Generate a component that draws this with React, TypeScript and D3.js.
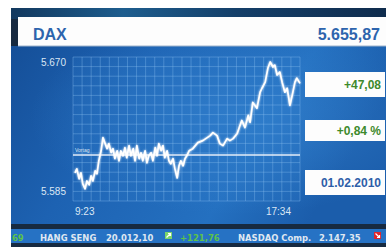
import { useEffect, useRef } from 'react';
import * as d3 from 'd3';

// intraday DAX quotes
const times = [
  '9:23', '9:27', '9:32', '9:36', '9:40', '9:45', '9:49', '9:54', '9:58', '10:02',
  '10:07', '10:11', '10:15', '10:20', '10:24', '10:28', '10:33', '10:37', '10:42', '10:46',
  '10:50', '10:55', '10:59', '11:03', '11:08', '11:12', '11:16', '11:21', '11:25', '11:30',
  '11:34', '11:38', '11:43', '11:47', '11:51', '11:56', '12:00', '12:04', '12:09', '12:13',
  '12:18', '12:22', '12:26', '12:31', '12:35', '12:39', '12:44', '12:48', '12:52', '12:57',
  '13:01', '13:06', '13:10', '13:14', '13:19', '13:23', '13:27', '13:32', '13:40', '13:51',
  '14:02', '14:18', '14:24', '14:33', '14:39', '14:46', '14:55', '15:01', '15:08', '15:17',
  '15:23', '15:27', '15:34', '15:41', '15:45', '15:51', '16:00', '16:07', '16:11', '16:18',
  '16:24', '16:29', '16:35', '16:39', '16:44', '16:50', '16:55', '17:01', '17:06', '17:12',
  '17:17', '17:23', '17:27', '17:34',
];
const values = [
  5597.0, 5599.6, 5593.0, 5597.0, 5589.7, 5586.4, 5591.6, 5589.0, 5595.0, 5591.6,
  5598.3, 5596.3, 5604.9, 5611.5, 5620.2, 5616.9, 5612.9, 5616.2, 5610.2, 5612.9,
  5606.3, 5611.5, 5604.9, 5611.5, 5608.2, 5613.6, 5606.9, 5614.9, 5608.2, 5612.9,
  5604.9, 5614.9, 5606.3, 5610.2, 5604.9, 5611.5, 5603.6, 5608.2, 5610.2, 5604.9,
  5613.6, 5608.2, 5616.2, 5611.5, 5614.9, 5606.9, 5611.5, 5604.9, 5602.9, 5606.3,
  5599.6, 5593.6, 5601.6, 5604.9, 5601.6, 5606.3, 5608.2, 5611.5, 5612.9, 5616.9,
  5618.2, 5621.5, 5623.5, 5621.5, 5616.2, 5614.9, 5619.5, 5618.2, 5619.5, 5622.9,
  5628.2, 5631.5, 5626.8, 5634.8, 5630.2, 5643.4, 5639.5, 5650.1, 5652.7, 5656.7,
  5666.0, 5670.0, 5666.7, 5668.0, 5661.4, 5663.4, 5656.7, 5650.1, 5652.7, 5641.4,
  5648.1, 5656.7, 5659.4, 5655.9,
];
const yTicks = [5585, 5670];
const xLabels = ['9:23', '17:34'];
const previousClose = 5608.79;

const indexName = 'DAX';
const lastValue = '5.655,87';
const change = '+47,08';
const changePct = '+0,84 %';
const dateLabel = '01.02.2010';

const tickerItems = [
  { text: '69', color: '#5cc24a' },
  { text: 'HANG SENG', color: '#dfe7f1' },
  { text: '20.012,10', color: '#dfe7f1' },
  { text: 'up', color: '#7bd36a' },
  { text: '+121,76', color: '#5cc24a' },
  { text: 'NASDAQ Comp.', color: '#dfe7f1' },
  { text: '2.147,35', color: '#dfe7f1' },
  { text: 'down', color: '#e0262b' },
];

const W = 386;
const H = 247;
const FONT = '"Liberation Sans", Arial, sans-serif';
const TICKER_FONT = '"DejaVu Sans Condensed", "DejaVu Sans", sans-serif';

export default function App() {
  const svgRef = useRef<SVGSVGElement>(null);

  useEffect(() => {
    const svg = d3.select(svgRef.current);
    svg.selectAll('*').remove();

    const parse = d3.timeParse('%H:%M');
    const data = times.map((t, i) => ({ t: parse(t) as Date, v: values[i] }));

    const grid = { left: 73, right: 300, top: 57, bottom: 201 };

    const x = d3.scaleTime()
      .domain([parse('9:23') as Date, parse('17:34') as Date])
      .range([75, 300]);
    const y = d3.scaleLinear()
      .domain([5585, 5670])
      .range([191, 62]);

    const defs = svg.append('defs');
    const panelGrad = defs.append('linearGradient').attr('id', 'panel')
      .attr('x1', 0).attr('y1', 0).attr('x2', 1).attr('y2', 0.3);
    panelGrad.append('stop').attr('offset', 0).attr('stop-color', '#154f98');
    panelGrad.append('stop').attr('offset', 0.35).attr('stop-color', '#1d62b2');
    panelGrad.append('stop').attr('offset', 0.75).attr('stop-color', '#2470c0');
    panelGrad.append('stop').attr('offset', 1).attr('stop-color', '#1b5dab');

    const glow = defs.append('radialGradient').attr('id', 'glow')
      .attr('cx', 0.6).attr('cy', 0.4).attr('r', 0.55);
    glow.append('stop').attr('offset', 0).attr('stop-color', '#3a8ad6').attr('stop-opacity', 0.55);
    glow.append('stop').attr('offset', 1).attr('stop-color', '#3a8ad6').attr('stop-opacity', 0);

    const topGrad = defs.append('linearGradient').attr('id', 'topband')
      .attr('x1', 0).attr('y1', 0).attr('x2', 1).attr('y2', 0);
    topGrad.append('stop').attr('offset', 0).attr('stop-color', '#12385e');
    topGrad.append('stop').attr('offset', 0.3).attr('stop-color', '#1d5d8e');
    topGrad.append('stop').attr('offset', 0.6).attr('stop-color', '#143f69');
    topGrad.append('stop').attr('offset', 1).attr('stop-color', '#0f2c4d');

    const blur = defs.append('filter').attr('id', 'lineGlow')
      .attr('x', '-10%').attr('y', '-10%').attr('width', '120%').attr('height', '120%');
    blur.append('feGaussianBlur').attr('stdDeviation', 1.2).attr('result', 'b');
    const merge = blur.append('feMerge');
    merge.append('feMergeNode').attr('in', 'b');
    merge.append('feMergeNode').attr('in', 'SourceGraphic');

    // page and frame
    svg.append('rect').attr('width', W).attr('height', H).attr('fill', '#ffffff');
    svg.append('rect').attr('x', 11).attr('y', 8).attr('width', W - 11).attr('height', H - 8)
      .attr('fill', '#172a40');
    svg.append('rect').attr('x', 11).attr('y', 8).attr('width', W - 11).attr('height', 11)
      .attr('fill', 'url(#topband)');

    // blue panel
    svg.append('rect').attr('x', 11).attr('y', 46).attr('width', W - 11).attr('height', 178)
      .attr('fill', 'url(#panel)');
    svg.append('rect').attr('x', 11).attr('y', 46).attr('width', W - 11).attr('height', 178)
      .attr('fill', 'url(#glow)');

    // title bar
    svg.append('rect').attr('x', 18).attr('y', 17).attr('width', W - 18).attr('height', 29)
      .attr('fill', '#fdfdfd');
    svg.append('line').attr('x1', 18).attr('x2', W).attr('y1', 46).attr('y2', 46)
      .attr('stroke', '#9db3cc').attr('stroke-width', 1);
    svg.append('text').attr('x', 33).attr('y', 40).text(indexName)
      .attr('font-family', FONT).attr('font-weight', 'bold').attr('font-size', 16)
      .attr('fill', '#2d64ad');
    svg.append('text').attr('x', 380).attr('y', 40).attr('text-anchor', 'end').text(lastValue)
      .attr('font-family', FONT).attr('font-weight', 'bold').attr('font-size', 16)
      .attr('fill', '#2d64ad');

    // grid
    const g = svg.append('g');
    g.append('rect')
      .attr('x', grid.left).attr('y', grid.top)
      .attr('width', grid.right - grid.left).attr('height', grid.bottom - grid.top)
      .attr('fill', '#2a78c8').attr('opacity', 0.25);
    const xStep = (grid.right - grid.left) / 25;
    d3.range(26).forEach(i => {
      g.append('line')
        .attr('x1', grid.left + i * xStep).attr('x2', grid.left + i * xStep)
        .attr('y1', grid.top).attr('y2', grid.bottom)
        .attr('stroke', '#8cc2f2').attr('stroke-opacity', 0.45).attr('stroke-width', 0.8);
    });
    const yStep = (grid.bottom - grid.top) / 15;
    d3.range(16).forEach(i => {
      g.append('line')
        .attr('x1', grid.left).attr('x2', grid.right)
        .attr('y1', grid.top + i * yStep).attr('y2', grid.top + i * yStep)
        .attr('stroke', '#8cc2f2').attr('stroke-opacity', 0.45).attr('stroke-width', 0.8);
    });

    // y labels
    svg.append('g').selectAll('text')
      .data(yTicks)
      .join('text')
      .attr('x', 66)
      .attr('y', d => y(d) + 4)
      .attr('text-anchor', 'end')
      .attr('font-family', FONT)
      .attr('font-size', 10)
      .attr('fill', '#dbe7f4')
      .text(d => d3.format(',')(d).replace(',', '.'));

    // x labels
    svg.append('text').attr('x', x(parse(xLabels[0]) as Date)).attr('y', 215)
      .attr('font-family', FONT).attr('font-size', 10).attr('fill', '#dbe7f4')
      .text(xLabels[0]);
    svg.append('text').attr('x', x(parse(xLabels[1]) as Date) - 9).attr('y', 215)
      .attr('text-anchor', 'end')
      .attr('font-family', FONT).attr('font-size', 10).attr('fill', '#dbe7f4')
      .text(xLabels[1]);

    // previous close
    svg.append('line')
      .attr('x1', grid.left).attr('x2', grid.right)
      .attr('y1', y(previousClose)).attr('y2', y(previousClose))
      .attr('stroke', '#e6eef8').attr('stroke-width', 1.5);
    svg.append('text').attr('x', 75).attr('y', y(previousClose) - 3)
      .attr('font-family', FONT).attr('font-size', 5).attr('fill', '#dbe7f4')
      .text('Vortag');

    // price line
    const line = d3.line<{ t: Date; v: number }>()
      .x(d => x(d.t))
      .y(d => y(d.v));
    svg.append('path')
      .datum(data)
      .attr('d', line)
      .attr('fill', 'none')
      .attr('stroke', '#ffffff')
      .attr('stroke-width', 1.7)
      .attr('stroke-linejoin', 'round')
      .attr('filter', 'url(#lineGlow)');

    // right boxes
    const boxes = [
      { y: 72, h: 25, text: change, color: '#3d8a2c' },
      { y: 120, h: 21, text: changePct, color: '#3d8a2c' },
      { y: 170, h: 25, text: dateLabel, color: '#2d5ea8' },
    ];
    boxes.forEach(b => {
      svg.append('rect').attr('x', 305).attr('y', b.y).attr('width', 80).attr('height', b.h)
        .attr('fill', '#fdfdfd');
      svg.append('text').attr('x', 381).attr('y', b.y + b.h / 2 + 4.5)
        .attr('text-anchor', 'end')
        .attr('font-family', FONT).attr('font-weight', 'bold').attr('font-size', 12)
        .attr('fill', b.color).text(b.text);
    });

    // ticker bar
    svg.append('rect').attr('x', 11).attr('y', 229).attr('width', W - 11).attr('height', 14)
      .attr('fill', '#2672c4');
    const tickerX = [12, 40, 106, 165, 180, 238, 319, 374];
    tickerItems.forEach((item, i) => {
      if (item.text === 'up' || item.text === 'down') {
        const bx = tickerX[i];
        svg.append('rect').attr('x', bx).attr('y', 232).attr('width', 7).attr('height', 7)
          .attr('fill', item.color);
        const p = item.text === 'up'
          ? `M${bx + 1.5},237.5 L${bx + 5.5},233.5 M${bx + 3},233.5 L${bx + 5.5},233.5 L${bx + 5.5},236`
          : `M${bx + 1.5},233.5 L${bx + 5.5},237.5 M${bx + 3},237.5 L${bx + 5.5},237.5 L${bx + 5.5},235`;
        svg.append('path').attr('d', p).attr('stroke', '#ffffff').attr('stroke-width', 1.2)
          .attr('fill', 'none');
      } else {
        svg.append('text').attr('x', tickerX[i]).attr('y', 240.5)
          .attr('font-family', TICKER_FONT).attr('font-weight', 'bold').attr('font-size', 9.4)
          .attr('fill', item.color).text(item.text);
      }
    });
  }, []);

  return (
    <div style={{ position: 'fixed', left: 0, top: 0 }}>
      <svg ref={svgRef} width={W} height={H} style={{ display: 'block' }} />
    </div>
  );
}
